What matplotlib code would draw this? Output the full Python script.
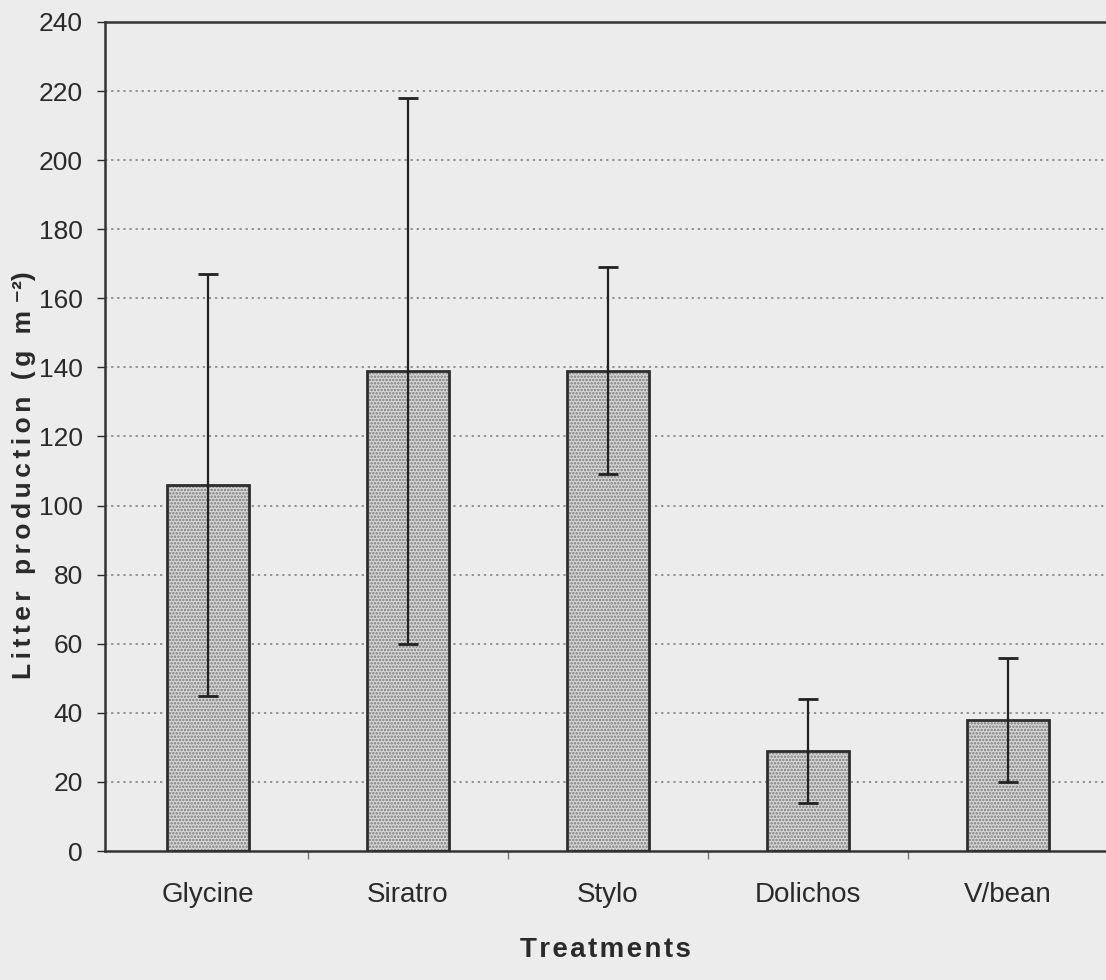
import numpy as np
import matplotlib
matplotlib.use('Agg')
import matplotlib.pyplot as plt
from matplotlib.ticker import FixedLocator

plt.rcParams['font.family'] = ['Liberation Sans', 'DejaVu Sans']

# litter production per treatment (mean and error)
treatments = ['Glycine', 'Siratro', 'Stylo', 'Dolichos', 'V/bean']
litter = [106, 139, 139, 29, 38]
err = [61, 79, 30, 15, 18]

def spaced(s, gap='\u200a'):
    # the scanned labels are letter-spaced a little
    return gap.join(s)

paper = '#ececec'
W, H = 1106, 980
fig = plt.figure(figsize=(W/100, H/100), dpi=100, facecolor=paper)
ax = fig.add_axes([105/W, 129/H, 1 - 105/W, 829/H])
ax.set_facecolor(paper)

x = np.arange(len(treatments))
plt.rcParams['hatch.color'] = '#7a7a7a'
plt.rcParams['hatch.linewidth'] = 1.2
ax.bar(x, litter, width=0.41, color='#d6d6d6', hatch='.....', edgecolor='#7a7a7a',
       linewidth=0, zorder=2)
ax.bar(x, litter, width=0.41, fill=False, edgecolor='#2e2e2e', linewidth=2, zorder=3)
ax.errorbar(x, litter, yerr=err, fmt='none', ecolor='#222222', elinewidth=1.6,
            capsize=7, capthick=2, zorder=4)

ax.set_ylim(0, 240)
ax.set_xlim(-0.515, 4.49)
ax.set_yticks(np.arange(0, 241, 20))
for v in range(20, 240, 20):
    ax.axhline(v, color='#7a7a7a', linestyle=(0, (1.5, 2.5)), linewidth=1.1, zorder=1)

ax.set_xticks(x)
ax.set_xticklabels(treatments, fontsize=20, color='#2a2a2a')
ax.tick_params(axis='x', length=0, pad=22)
ax.xaxis.set_minor_locator(FixedLocator(np.arange(0.5, 4.5, 1)))
ax.tick_params(axis='x', which='minor', length=6, width=1, color='#777777', direction='out')
ax.tick_params(axis='y', length=6, width=1, pad=10, labelsize=19, colors='#2a2a2a')

for s in ['left', 'bottom', 'top']:
    ax.spines[s].set_color('#333333')
    ax.spines[s].set_linewidth(1.8)
ax.spines['right'].set_visible(False)

fig.text(605/W, 1 - 950/H, spaced('Treatments'), fontsize=20, fontweight='bold',
         color='#2a2a2a', ha='center', va='center')
fig.text(24/W, 1 - 475/H, spaced('Litter production (g m', '\u200a\u200a') + ' \u207b\u00b2)',
         fontsize=19, fontweight='bold', color='#2a2a2a', rotation=90,
         ha='center', va='center')

fig.savefig('out.png', dpi=100, facecolor=paper)
